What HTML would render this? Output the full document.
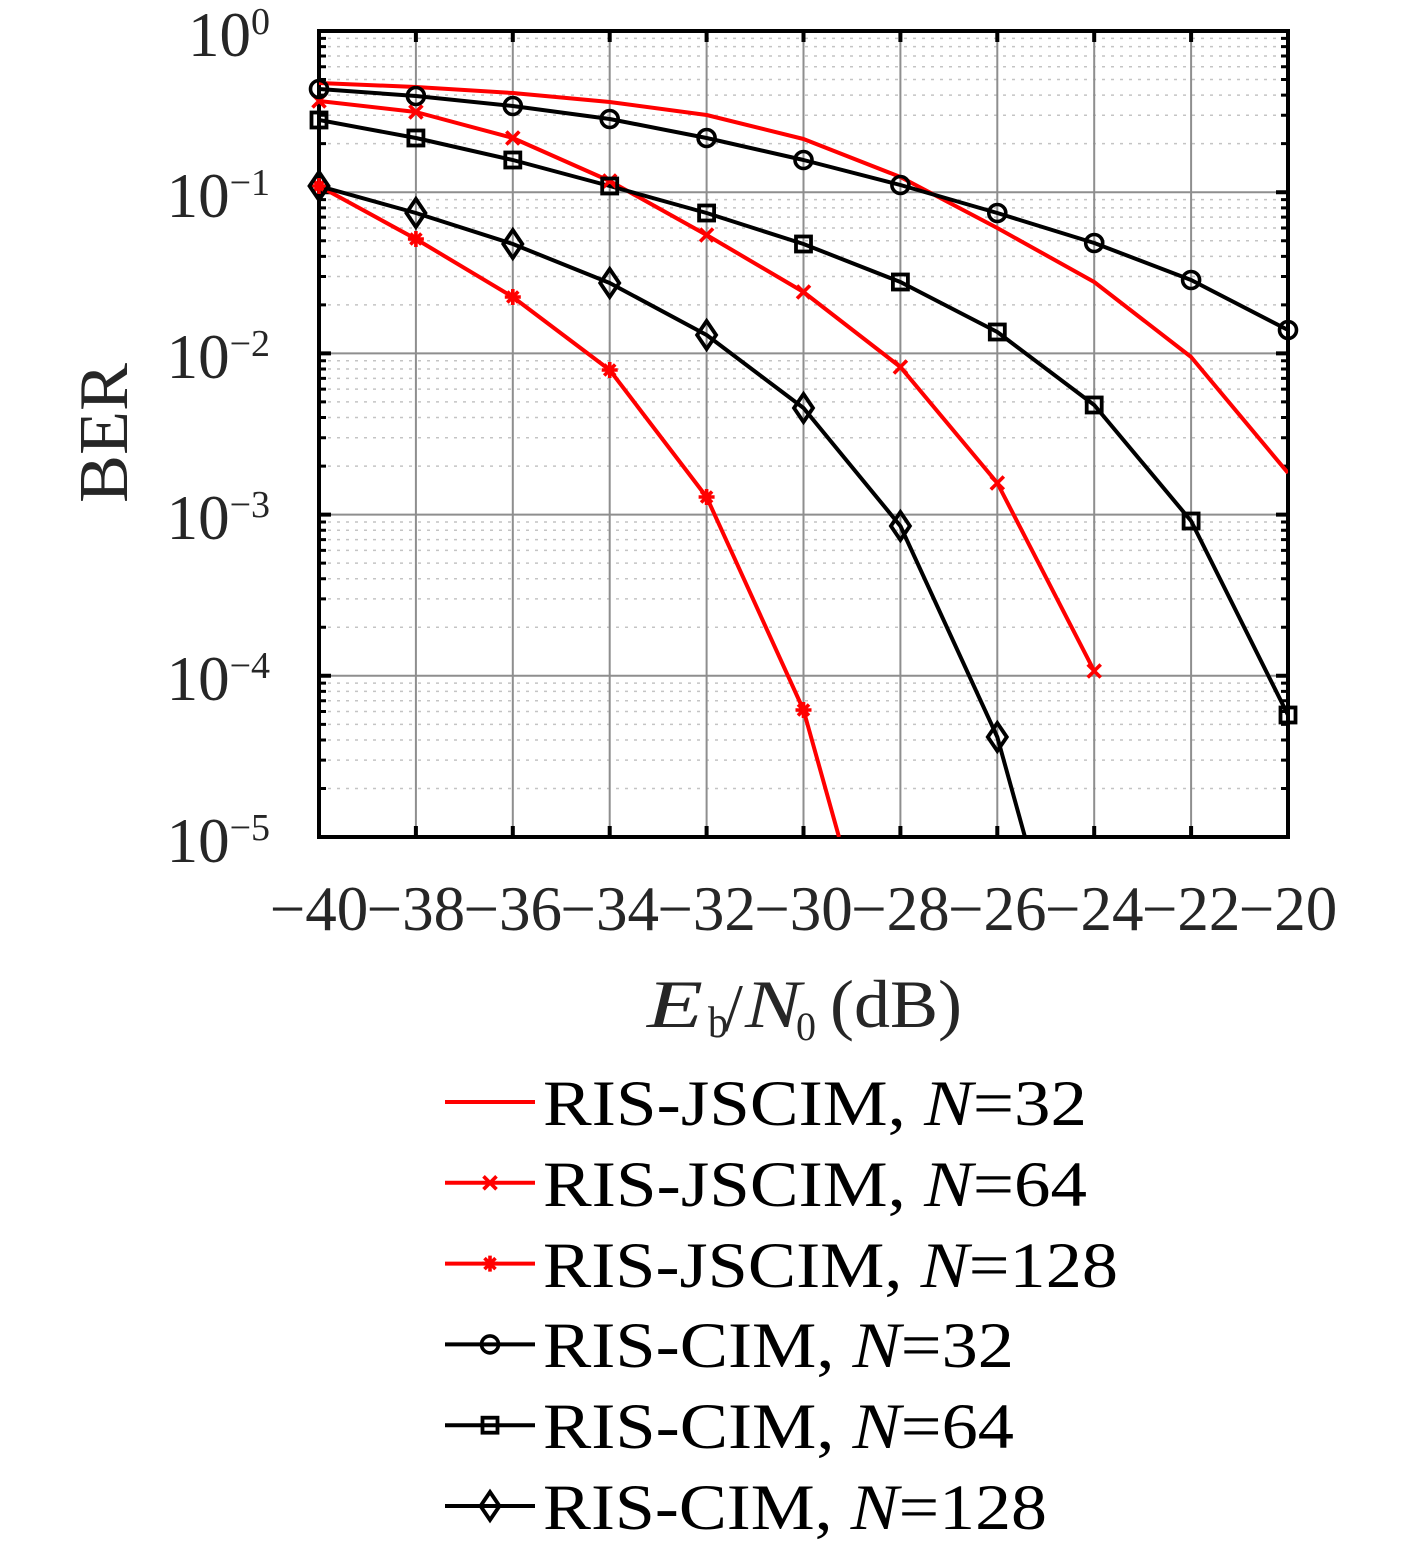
<!DOCTYPE html>
<html><head><meta charset="utf-8"><style>html,body{margin:0;padding:0;background:#fff;}svg{display:block;}</style></head>
<body>
<svg xmlns="http://www.w3.org/2000/svg" width="1417" height="1543" viewBox="0 0 1417 1543">
<rect width="1417" height="1543" fill="#fff"/>
<defs><clipPath id="pc"><rect x="319" y="31" width="969" height="806"/></clipPath></defs>
<!-- minor grid -->
<path fill="none" stroke="#c4c4c4" stroke-width="1.5" stroke-dasharray="3 6" d="
M319 143.67H1288M319 115.29H1288M319 95.15H1288M319 79.53H1288M319 66.76H1288M319 55.97H1288M319 46.62H1288M319 38.38H1288
M319 304.87H1288M319 276.49H1288M319 256.35H1288M319 240.73H1288M319 227.96H1288M319 217.17H1288M319 207.82H1288M319 199.58H1288
M319 466.07H1288M319 437.69H1288M319 417.55H1288M319 401.93H1288M319 389.16H1288M319 378.37H1288M319 369.02H1288M319 360.78H1288
M319 627.27H1288M319 598.89H1288M319 578.75H1288M319 563.13H1288M319 550.36H1288M319 539.57H1288M319 530.22H1288M319 521.98H1288
M319 788.47H1288M319 760.09H1288M319 739.95H1288M319 724.33H1288M319 711.56H1288M319 700.77H1288M319 691.42H1288M319 683.18H1288"/>
<!-- major grid -->
<path fill="none" stroke="#8e8e8e" stroke-width="2" d="
M319 192.2H1288M319 353.4H1288M319 514.6H1288M319 675.8H1288
M415.9 31V837M512.8 31V837M609.7 31V837M706.6 31V837M803.5 31V837M900.4 31V837M997.3 31V837M1094.2 31V837M1191.1 31V837"/>
<!-- axes box -->
<rect x="319" y="31" width="969" height="806" fill="none" stroke="#000" stroke-width="4"/>
<!-- major ticks -->
<path fill="none" stroke="#000" stroke-width="4" d="
M319 31h12M319 192.2h12M319 353.4h12M319 514.6h12M319 675.8h12M319 837h12
M1288 31h-12M1288 192.2h-12M1288 353.4h-12M1288 514.6h-12M1288 675.8h-12M1288 837h-12
M415.9 837v-11M512.8 837v-11M609.7 837v-11M706.6 837v-11M803.5 837v-11M900.4 837v-11M997.3 837v-11M1094.2 837v-11M1191.1 837v-11
M415.9 31v11M512.8 31v11M609.7 31v11M706.6 31v11M803.5 31v11M900.4 31v11M997.3 31v11M1094.2 31v11M1191.1 31v11"/>
<!-- minor ticks -->
<path fill="none" stroke="#000" stroke-width="3" d="
M319 143.67h7M319 115.29h7M319 95.15h7M319 79.53h7M319 66.76h7M319 55.97h7M319 46.62h7M319 38.38h7
M319 304.87h7M319 276.49h7M319 256.35h7M319 240.73h7M319 227.96h7M319 217.17h7M319 207.82h7M319 199.58h7
M319 466.07h7M319 437.69h7M319 417.55h7M319 401.93h7M319 389.16h7M319 378.37h7M319 369.02h7M319 360.78h7
M319 627.27h7M319 598.89h7M319 578.75h7M319 563.13h7M319 550.36h7M319 539.57h7M319 530.22h7M319 521.98h7
M319 788.47h7M319 760.09h7M319 739.95h7M319 724.33h7M319 711.56h7M319 700.77h7M319 691.42h7M319 683.18h7
M1288 143.67h-7M1288 115.29h-7M1288 95.15h-7M1288 79.53h-7M1288 66.76h-7M1288 55.97h-7M1288 46.62h-7M1288 38.38h-7
M1288 304.87h-7M1288 276.49h-7M1288 256.35h-7M1288 240.73h-7M1288 227.96h-7M1288 217.17h-7M1288 207.82h-7M1288 199.58h-7
M1288 466.07h-7M1288 437.69h-7M1288 417.55h-7M1288 401.93h-7M1288 389.16h-7M1288 378.37h-7M1288 369.02h-7M1288 360.78h-7
M1288 627.27h-7M1288 598.89h-7M1288 578.75h-7M1288 563.13h-7M1288 550.36h-7M1288 539.57h-7M1288 530.22h-7M1288 521.98h-7
M1288 788.47h-7M1288 760.09h-7M1288 739.95h-7M1288 724.33h-7M1288 711.56h-7M1288 700.77h-7M1288 691.42h-7M1288 683.18h-7"/>

<!-- series lines -->
<g clip-path="url(#pc)" fill="none" stroke-width="4" stroke-linejoin="round">
<polyline stroke="#ff0000" points="319,83 415.9,87 512.8,93 609.7,102 706.6,115 803.5,139 900.4,177 997.3,228 1094.2,282 1191.1,357 1288,473"/>
<polyline stroke="#ff0000" points="319,101 415.9,112 512.8,138 609.7,181 706.6,235 803.5,292 900.4,367 997.3,483 1094.2,671"/>
<polyline stroke="#ff0000" points="319,186 415.9,239 512.8,297 609.7,370 706.6,497 803.5,710 839,837"/>
<polyline stroke="#000" points="319,89 415.9,96 512.8,106 609.7,119 706.6,138 803.5,160 900.4,185 997.3,213 1094.2,243 1191.1,280 1288,330"/>
<polyline stroke="#000" points="319,120 415.9,138 512.8,160 609.7,186 706.6,213 803.5,244 900.4,282 997.3,332 1094.2,405 1191.1,521 1288,715"/>
<polyline stroke="#000" points="319,186 415.9,213 512.8,244 609.7,283 706.6,335 803.5,408 900.4,526 997.3,737 1025,837"/>
</g>

<!-- red x markers -->
<path fill="none" stroke="#ff0000" stroke-width="3.6" d="
M312.5 94.5l13 13M312.5 107.5l13-13
M409.4 105.5l13 13M409.4 118.5l13-13
M506.3 131.5l13 13M506.3 144.5l13-13
M603.2 174.5l13 13M603.2 187.5l13-13
M700.1 228.5l13 13M700.1 241.5l13-13
M797 285.5l13 13M797 298.5l13-13
M893.9 360.5l13 13M893.9 373.5l13-13
M990.8 476.5l13 13M990.8 489.5l13-13
M1087.7 664.5l13 13M1087.7 677.5l13-13"/>
<!-- red * markers -->
<path fill="none" stroke="#ff0000" stroke-width="3.6" d="
M311 186h16M319 178v16M313.5 180.5l11 11M313.5 191.5l11-11
M407.9 239h16M415.9 231v16M410.4 233.5l11 11M410.4 244.5l11-11
M504.8 297h16M512.8 289v16M507.3 291.5l11 11M507.3 302.5l11-11
M601.7 370h16M609.7 362v16M604.2 364.5l11 11M604.2 375.5l11-11
M698.6 497h16M706.6 489v16M701.1 491.5l11 11M701.1 502.5l11-11
M795.5 710h16M803.5 702v16M798 704.5l11 11M798 715.5l11-11"/>
<!-- circles -->
<g fill="none" stroke="#000" stroke-width="3.6">
<circle cx="319" cy="89" r="8.5"/><circle cx="415.9" cy="96" r="8.5"/><circle cx="512.8" cy="106" r="8.5"/><circle cx="609.7" cy="119" r="8.5"/><circle cx="706.6" cy="138" r="8.5"/><circle cx="803.5" cy="160" r="8.5"/><circle cx="900.4" cy="185" r="8.5"/><circle cx="997.3" cy="213" r="8.5"/><circle cx="1094.2" cy="243" r="8.5"/><circle cx="1191.1" cy="280" r="8.5"/><circle cx="1288" cy="330" r="8.5"/>
</g>
<!-- squares -->
<g fill="none" stroke="#000" stroke-width="3.8">
<rect x="311.5" y="112.5" width="15" height="15"/><rect x="408.4" y="130.5" width="15" height="15"/><rect x="505.3" y="152.5" width="15" height="15"/><rect x="602.2" y="178.5" width="15" height="15"/><rect x="699.1" y="205.5" width="15" height="15"/><rect x="796" y="236.5" width="15" height="15"/><rect x="892.9" y="274.5" width="15" height="15"/><rect x="989.8" y="324.5" width="15" height="15"/><rect x="1086.7" y="397.5" width="15" height="15"/><rect x="1183.6" y="513.5" width="15" height="15"/><rect x="1280.5" y="707.5" width="15" height="15"/>
</g>
<!-- diamonds -->
<path fill="none" stroke="#000" stroke-width="3.8" stroke-linejoin="miter" d="
M319 172l9.5 14l-9.5 14l-9.5 -14z
M415.9 199l9.5 14l-9.5 14l-9.5 -14z
M512.8 230l9.5 14l-9.5 14l-9.5 -14z
M609.7 269l9.5 14l-9.5 14l-9.5 -14z
M706.6 321l9.5 14l-9.5 14l-9.5 -14z
M803.5 394l9.5 14l-9.5 14l-9.5 -14z
M900.4 512l9.5 14l-9.5 14l-9.5 -14z
M997.3 723l9.5 14l-9.5 14l-9.5 -14z"/>

<!-- y tick labels -->
<g font-family="'Liberation Serif', serif" font-size="63" fill="#262626" text-anchor="end">
<text x="270" y="56">10<tspan font-size="38" dy="-22">0</tspan></text>
<text x="270" y="217">10<tspan font-size="38" dy="-22">−1</tspan></text>
<text x="270" y="378">10<tspan font-size="38" dy="-22">−2</tspan></text>
<text x="270" y="539">10<tspan font-size="38" dy="-22">−3</tspan></text>
<text x="270" y="700">10<tspan font-size="38" dy="-22">−4</tspan></text>
<text x="270" y="862">10<tspan font-size="38" dy="-22">−5</tspan></text>
</g>
<!-- x tick labels -->
<g font-family="'Liberation Serif', serif" font-size="63" fill="#262626" text-anchor="middle">
<text x="319" y="930">−40</text>
<text x="415.9" y="930">−38</text>
<text x="512.8" y="930">−36</text>
<text x="609.7" y="930">−34</text>
<text x="706.6" y="930">−32</text>
<text x="803.5" y="930">−30</text>
<text x="900.4" y="930">−28</text>
<text x="997.3" y="930">−26</text>
<text x="1094.2" y="930">−24</text>
<text x="1191.1" y="930">−22</text>
<text x="1288" y="930">−20</text>
</g>
<!-- y label -->
<text transform="translate(127,433) rotate(-90)" font-family="'Liberation Serif', serif" font-size="70" fill="#262626" text-anchor="middle" textLength="140" lengthAdjust="spacingAndGlyphs">BER</text>
<!-- x label -->
<g font-family="'Liberation Serif', serif" fill="#262626">
<text x="647" y="1027" font-size="68" font-style="italic" textLength="56" lengthAdjust="spacingAndGlyphs">E</text>
<text x="708" y="1037" font-size="44" textLength="20" lengthAdjust="spacingAndGlyphs">b</text>
<text x="724" y="1031" font-size="68">/</text>
<text x="745" y="1027" font-size="68" font-style="italic" textLength="56" lengthAdjust="spacingAndGlyphs">N</text>
<text x="796" y="1040" font-size="40">0</text>
<text x="830" y="1027" font-size="68" textLength="132" lengthAdjust="spacingAndGlyphs">(dB)</text>
</g>

<!-- legend -->
<g fill="none" stroke-width="4">
<path stroke="#ff0000" d="M445 1102H535"/>
<path stroke="#ff0000" d="M445 1182.8H535"/>
<path stroke="#ff0000" stroke-width="3.6" d="M483.5 1176.3l13 13M483.5 1189.3l13-13"/>
<path stroke="#ff0000" d="M445 1263.6H535"/>
<path stroke="#ff0000" stroke-width="3.6" d="M482 1263.6h16M490 1255.6v16M484.5 1258.1l11 11M484.5 1269.1l11-11"/>
<path stroke="#000" d="M445 1344.4H535"/>
<circle stroke="#000" stroke-width="3.6" cx="490" cy="1344.4" r="8.5" fill="#fff" fill-opacity="0"/>
<path stroke="#000" d="M445 1425.2H535"/>
<rect stroke="#000" stroke-width="3.8" x="482.5" y="1417.7" width="15" height="15"/>
<path stroke="#000" d="M445 1506H535"/>
<path stroke="#000" stroke-width="3.8" d="M490 1492l9.5 14l-9.5 14l-9.5 -14z"/>
</g>
<g font-family="'Liberation Serif', serif" font-size="65" fill="#000">
<text x="543" y="1125" textLength="544" lengthAdjust="spacingAndGlyphs">RIS-JSCIM, <tspan font-style="italic">N</tspan>=32</text>
<text x="543" y="1206" textLength="544" lengthAdjust="spacingAndGlyphs">RIS-JSCIM, <tspan font-style="italic">N</tspan>=64</text>
<text x="543" y="1287" textLength="575" lengthAdjust="spacingAndGlyphs">RIS-JSCIM, <tspan font-style="italic">N</tspan>=128</text>
<text x="543" y="1367" textLength="471" lengthAdjust="spacingAndGlyphs">RIS-CIM, <tspan font-style="italic">N</tspan>=32</text>
<text x="543" y="1448" textLength="471" lengthAdjust="spacingAndGlyphs">RIS-CIM, <tspan font-style="italic">N</tspan>=64</text>
<text x="543" y="1529" textLength="504" lengthAdjust="spacingAndGlyphs">RIS-CIM, <tspan font-style="italic">N</tspan>=128</text>
</g>
</svg>
</body></html>
